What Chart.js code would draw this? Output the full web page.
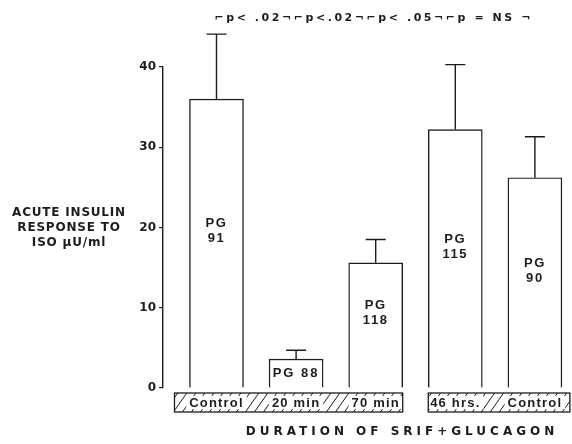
<!DOCTYPE html>
<html>
<head>
<meta charset="utf-8">
<script src="https://cdn.jsdelivr.net/npm/chart.js@4"></script>
<style>
  html, body { margin: 0; padding: 0; background: #fff; }
  #wrap { width: 572px; height: 444px; }
</style>
</head>
<body>
<div id="wrap"><canvas id="insulin"></canvas></div>
<script>
// values
const groups = ["Control", "20 min", "70 min", "46 hrs.", "Control"];
const insulin = [36.0, 3.6, 15.6, 32.2, 26.2];
const sem = [8.1, 1.1, 2.9, 8.1, 5.1];
const pgLabels = [["PG", "91"], ["PG 88"], ["PG", "118"], ["PG", "115"], ["PG", "90"]];
const pValues = ["p< .02", "p<.02", "p< .05", "p = NS "];
const yTicks = [0, 10, 20, 30, 40];
const bands = [[0, 2], [3, 4]];
const yTitle = ["ACUTE INSULIN", "RESPONSE TO", "ISO \u00b5U/ml"];
const xTitle = "DURATION OF SRIF+GLUCAGON";

const INK = "#1c1c1c";
const FONT = "'DejaVu Sans', sans-serif";
const FONT2 = "'Liberation Sans', Arial, sans-serif";

function spaced(ctx, text, x, y, spacing) {
  ctx.letterSpacing = spacing + "px";
  ctx.fillText(text, x, y);
  ctx.letterSpacing = "0px";
}

const decor = {
  id: "decor",
  afterDatasetsDraw(chart) {
    const { ctx, scales: { y } } = chart;
    const meta = chart.getDatasetMeta(0);
    ctx.save();
    ctx.strokeStyle = INK;
    ctx.fillStyle = INK;
    ctx.lineWidth = 1.4;

    // error bars (upper half only)
    meta.data.forEach((bar, i) => {
      const top = y.getPixelForValue(insulin[i] + sem[i]);
      ctx.beginPath();
      ctx.moveTo(bar.x, bar.y);
      ctx.lineTo(bar.x, top);
      ctx.moveTo(bar.x - 10, top);
      ctx.lineTo(bar.x + 10, top);
      ctx.stroke();
    });

    // PG labels inside bars
    ctx.font = "bold 13px " + FONT2;
    ctx.textAlign = "center";
    ctx.textBaseline = "middle";
    meta.data.forEach((bar, i) => {
      const lines = pgLabels[i];
      const mid = (bar.y + bar.base) / 2 - (lines.length > 1 ? 12 : 0);
      lines.forEach((t, k) => {
        spaced(ctx, t, bar.x, mid + (k - (lines.length - 1) / 2) * 15, lines.length > 1 ? 1.6 : 2);
      });
    });

    // significance brackets along the top, one run from bar 1 to bar 5
    ctx.font = "bold 11px " + FONT;
    ctx.textAlign = "left";
    const sig = pValues.map(t => "\u2310" + t + "\u00ac").join("");
    const x0 = meta.data[0].x - 2, x1 = meta.data[meta.data.length - 1].x - 2;
    const natural = ctx.measureText(sig).width;
    const n = [...sig].length;
    spaced(ctx, sig, x0, 18, (x1 - x0 - natural) / n);
    ctx.textAlign = "center";

    // hatched strips under the bars
    const bandPad = [[15, 0], [0, 8]];
    const bTop = y.bottom + 5, bH = 19;
    ctx.font = "bold 13px " + FONT2;
    bands.forEach(([a, b], j) => {
      const b0 = meta.data[a], b1 = meta.data[b];
      const left = b0.x - b0.width / 2 - bandPad[j][0];
      const right = b1.x + b1.width / 2 + bandPad[j][1];
      ctx.save();
      ctx.beginPath();
      ctx.rect(left, bTop, right - left, bH);
      ctx.clip();
      ctx.lineWidth = 1;
      ctx.beginPath();
      for (let hx = left - bH; hx < right + bH; hx += 9) {
        ctx.moveTo(hx, bTop + bH);
        ctx.lineTo(hx + bH * 0.7, bTop);
      }
      ctx.stroke();
      for (let i = a; i <= b; i++) {
        ctx.letterSpacing = "1.2px";
        const w = ctx.measureText(groups[i]).width;
        ctx.fillStyle = "#fff";
        ctx.fillRect(meta.data[i].x - w / 2 - 3, bTop + 3, w + 6, bH - 6);
        ctx.fillStyle = INK;
        ctx.fillText(groups[i], meta.data[i].x, bTop + bH / 2 + 1);
        ctx.letterSpacing = "0px";
      }
      ctx.restore();
      ctx.lineWidth = 1.3;
      ctx.strokeRect(left, bTop, right - left, bH);
    });

    // axis titles
    ctx.font = "bold 12px " + FONT;
    yTitle.forEach((t, k) => spaced(ctx, t, 69, 213 + k * 15, 0.8));
    spaced(ctx, xTitle, 402, 432, 4);
    ctx.restore();
  }
};

new Chart(document.getElementById("insulin"), {
  type: "bar",
  data: {
    datasets: [{
      data: insulin.map((v, i) => ({ x: i, y: v })),
      backgroundColor: "#fff",
      borderColor: INK,
      borderWidth: 1.4,
      borderSkipped: "bottom",
      barThickness: 54
    }]
  },
  options: {
    responsive: true,
    maintainAspectRatio: false,
    animation: false,
    layout: { padding: { top: 67, right: 0, bottom: 56, left: 0 } },
    plugins: { legend: { display: false }, tooltip: { enabled: false } },
    scales: {
      x: {
        type: "linear",
        display: false,
        offset: false,
        min: -0.672,
        max: 4.466
      },
      y: {
        min: 0,
        max: 40,
        afterFit(scale) { scale.width = 163; },
        afterBuildTicks(scale) { scale.ticks = yTicks.map(v => ({ value: v })); },
        border: { display: true, color: INK, width: 1.4 },
        grid: { display: true, drawOnChartArea: false, drawTicks: true, tickLength: 4, color: INK, lineWidth: 1.2 },
        ticks: { color: INK, padding: 3, font: { family: FONT, size: 12, weight: "bold" } }
      }
    }
  },
  plugins: [decor]
});
</script>
</body>
</html>
